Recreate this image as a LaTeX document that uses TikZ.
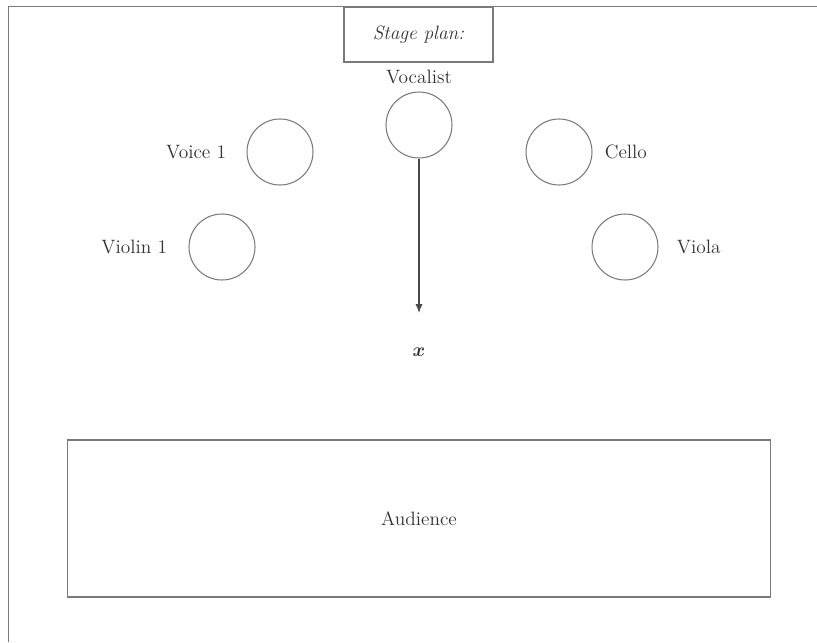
\documentclass[tikz,border=0pt]{standalone}
\usepackage{amsmath}
\usepackage{amssymb}
\usepackage{xcolor}
\usepackage{tikz}
\usetikzlibrary{arrows.meta,shapes,positioning}

\definecolor{linegray}{HTML}{7A7A7A}
\definecolor{textgray}{HTML}{333333}

\begin{document}
\begin{tikzpicture}[x=0.02cm,y=-0.02cm]
            \tikzset{player/.style = {circle, draw=linegray, line width=0.6pt, minimum size=1.32cm, inner sep=0pt}}
            \tikzset{playerlbl/.style = {inner sep=0pt, text=textgray, font=\fontsize{11}{13}\selectfont}}
            \tikzset{planbox/.style = {draw=linegray, line width=0.6pt, text=textgray, font=\fontsize{11}{13}\selectfont}}
            \useasboundingbox (0,0) rectangle (817,642);

            % frame
            \draw[linegray, line width=0.8pt] (8.5,642) -- (8.5,6.5) -- (817,6.5);
            \node[planbox, minimum width=2.98cm, minimum height=1.1cm] (plan) at (418.5,34.5) {\textit{Stage plan:}};

            % players
            \foreach \n/\x/\y in {vocal/419/125, voice1/280/152, violin1/222/247, cello/559/152, viola/625/247}
            {
              \node[player] (\n) at (\x,\y) {};
            }
            \node[playerlbl, above=0.14cm of vocal] (vocallbl) {Vocalist};
            \node[playerlbl, left=0.4cm of voice1] (voice1lbl) {Voice 1};
            \node[playerlbl, left=0.42cm of violin1] (violin1lbl) {Violin 1};
            \node[playerlbl, right=0.24cm of cello] (cellolbl) {Cello};
            \node[playerlbl, right=0.36cm of viola] (violalbl) {Viola};

            % vocalist moves to x
            \coordinate (xend) at (419,313);
            \draw[linegray!60!black, line width=0.6pt, -{Latex[length=5pt,width=4pt]}] (vocal) -- (xend);
            \node[playerlbl] (xmark) at (419,352) {$\boldsymbol{x}$};

            % audience
            \node[planbox, minimum width=14.08cm, minimum height=3.14cm] (audience) at (419,518.5) {Audience};
          \end{tikzpicture}
\end{document}
